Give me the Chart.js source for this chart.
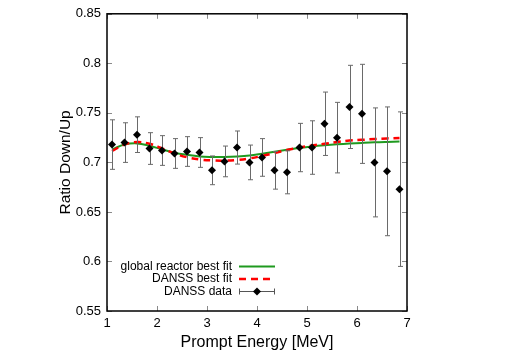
<!DOCTYPE html>
<html>
<head>
<meta charset="utf-8">
<script src="https://cdn.jsdelivr.net/npm/chart.js@4/dist/chart.umd.min.js"></script>
<style>
  html, body { margin: 0; padding: 0; background: #fff; }
  #wrap { width: 515px; height: 360px; }
</style>
</head>
<body>
<div id="wrap"><canvas id="ratioChart" width="515" height="360"></canvas></div>
<script>
/* ===== DATA ===== */
const energy = [1.1,1.35,1.6,1.85,2.1,2.35,2.6,2.85,3.1,3.35,3.6,3.85,4.1,4.35,4.6,4.85,5.1,5.35,5.6,5.85,6.1,6.35,6.6,6.85];
const ratio = [0.718,0.720,0.728,0.714,0.712,0.709,0.711,0.710,0.692,0.701,0.715,0.700,0.705,0.692,0.690,0.715,0.715,0.739,0.725,0.756,0.749,0.700,0.691,0.673];
const ratioErr = [0.025,0.020,0.018,0.016,0.015,0.015,0.015,0.015,0.0145,0.0155,0.0167,0.0175,0.019,0.019,0.0217,0.0244,0.027,0.032,0.0356,0.042,0.050,0.055,0.065,0.078];

const fitEnergy = [1.1,1.35,1.6,1.85,2.1,2.35,2.6,2.85,3.1,3.35,3.6,3.85,4.1,4.35,4.6,4.85,5.1,5.35,5.6,5.85,6.1,6.35,6.6,6.85];
const globalFit = [0.713,0.718,0.7192,0.7168,0.7132,0.7098,0.7076,0.706,0.7055,0.7055,0.706,0.707,0.7088,0.7108,0.7127,0.7145,0.716,0.7172,0.7182,0.719,0.7197,0.7203,0.7207,0.721];
const danssFit = [0.7115,0.718,0.7205,0.7188,0.7142,0.709,0.7052,0.703,0.702,0.7018,0.7025,0.704,0.7065,0.7095,0.7125,0.715,0.717,0.7188,0.7205,0.722,0.7228,0.7236,0.7242,0.7247];

const xTicks = [1,2,3,4,5,6,7];
const yTicks = [0.55,0.6,0.65,0.7,0.75,0.8,0.85];
const yTickLabels = ["0.55","0.6","0.65","0.7","0.75","0.8","0.85"];
const legendLabels = ["global reactor best fit","DANSS best fit","DANSS data"];

const FONT = "'Liberation Sans', Arial, sans-serif";
const GREEN = "#1f9a1f";
const RED = "#ff0000";

/* ===== ERROR BARS ===== */
const errorBars = {
    id: "errorBars",
    beforeDatasetDraw(chart, args) {
        if (args.index !== 2) return;
        const {ctx, scales: {x, y}} = chart;
        ctx.save();
        ctx.strokeStyle = "#6a6a6a";
        ctx.lineWidth = 1;
        energy.forEach((e, i) => {
            const px = Math.round(x.getPixelForValue(e)) + 0.5;
            const top = y.getPixelForValue(ratio[i] + ratioErr[i]);
            const bot = y.getPixelForValue(ratio[i] - ratioErr[i]);
            ctx.beginPath();
            ctx.moveTo(px, top); ctx.lineTo(px, bot);
            ctx.moveTo(px - 2.5, top); ctx.lineTo(px + 2.5, top);
            ctx.moveTo(px - 2.5, bot); ctx.lineTo(px + 2.5, bot);
            ctx.stroke();
        });
        ctx.restore();
    }
};

/* ===== FRAME + INWARD TICKS ===== */
const frame = {
    id: "frame",
    afterDraw(chart) {
        const {ctx, chartArea: a, scales: {x, y}} = chart;
        ctx.save();
        ctx.strokeStyle = "#8a8a8a";
        ctx.lineWidth = 1;
        ctx.beginPath();
        xTicks.forEach(v => {
            const px = Math.round(x.getPixelForValue(v)) + 0.5;
            ctx.moveTo(px, a.bottom); ctx.lineTo(px, a.bottom - 5);
            ctx.moveTo(px, a.top); ctx.lineTo(px, a.top + 5);
        });
        yTicks.forEach(v => {
            const py = Math.round(y.getPixelForValue(v)) + 0.5;
            ctx.moveTo(a.left, py); ctx.lineTo(a.left + 5, py);
            ctx.moveTo(a.right, py); ctx.lineTo(a.right - 5, py);
        });
        ctx.stroke();
        ctx.strokeStyle = "#000";
        ctx.lineWidth = 1.5;
        ctx.strokeRect(a.left, a.top, a.right - a.left, a.bottom - a.top);

        // key, bottom left inside the plot
        const textRight = a.left + 125;
        const s0 = a.left + 132, s1 = a.left + 168;
        const rows = [a.bottom - 44.5, a.bottom - 32, a.bottom - 19.5];
        ctx.font = "12px " + FONT;
        ctx.fillStyle = "#000";
        ctx.textAlign = "right";
        ctx.textBaseline = "middle";
        legendLabels.forEach((t, i) => ctx.fillText(t, textRight, rows[i]));

        ctx.lineWidth = 2;
        ctx.strokeStyle = GREEN;
        ctx.beginPath(); ctx.moveTo(s0, rows[0]); ctx.lineTo(s1, rows[0]); ctx.stroke();

        ctx.strokeStyle = RED;
        ctx.lineWidth = 2.5;
        ctx.setLineDash([7, 5]);
        ctx.beginPath(); ctx.moveTo(s0, rows[1]); ctx.lineTo(s1, rows[1]); ctx.stroke();
        ctx.setLineDash([]);

        ctx.strokeStyle = "#555";
        ctx.lineWidth = 1;
        ctx.beginPath();
        ctx.moveTo(s0, rows[2]); ctx.lineTo(s1, rows[2]);
        ctx.moveTo(s0 + 0.5, rows[2] - 3); ctx.lineTo(s0 + 0.5, rows[2] + 3);
        ctx.moveTo(s1 - 0.5, rows[2] - 3); ctx.lineTo(s1 - 0.5, rows[2] + 3);
        ctx.stroke();
        const cx = (s0 + s1) / 2;
        ctx.fillStyle = "#000";
        ctx.beginPath();
        ctx.moveTo(cx, rows[2] - 4); ctx.lineTo(cx + 4, rows[2]);
        ctx.lineTo(cx, rows[2] + 4); ctx.lineTo(cx - 4, rows[2]);
        ctx.closePath(); ctx.fill();
        ctx.restore();
    }
};

const bg = {
    id: "bg",
    beforeDraw(chart) {
        const ctx = chart.ctx;
        ctx.save();
        ctx.fillStyle = "#fff";
        ctx.fillRect(0, 0, chart.width, chart.height);
        ctx.restore();
    }
};

/* ===== CHART ===== */
const ctx = document.getElementById("ratioChart").getContext("2d");
new Chart(ctx, {
    type: "scatter",
    data: {
        datasets: [
            {
                label: legendLabels[0],
                type: "line",
                data: fitEnergy.map((e, i) => ({x: e, y: globalFit[i]})),
                borderColor: GREEN,
                borderWidth: 2,
                pointRadius: 0,
                tension: 0.4,
                fill: false,
                order: 2
            },
            {
                label: legendLabels[1],
                type: "line",
                data: fitEnergy.map((e, i) => ({x: e, y: danssFit[i]})),
                borderColor: RED,
                borderWidth: 2.5,
                borderDash: [7, 5],
                pointRadius: 0,
                tension: 0.4,
                fill: false,
                order: 1
            },
            {
                label: legendLabels[2],
                data: energy.map((e, i) => ({x: e, y: ratio[i]})),
                pointStyle: "rectRot",
                pointRadius: 4,
                backgroundColor: "#000",
                borderColor: "#000",
                borderWidth: 0,
                order: 0
            }
        ]
    },
    options: {
        responsive: false,
        animation: false,
        layout: {padding: {left: 0, top: 12, right: 108, bottom: 0}},
        plugins: {legend: {display: false}, tooltip: {enabled: false}},
        scales: {
            x: {
                type: "linear",
                min: 1, max: 7,
                afterBuildTicks: s => { s.ticks = xTicks.map(v => ({value: v})); },
                afterFit: s => { s.height = 49; },
                grid: {display: false, drawTicks: false},
                border: {display: false},
                ticks: {padding: 5, color: "#000", font: {family: FONT, size: 13}, maxRotation: 0},
                title: {display: true, text: "Prompt Energy [MeV]", color: "#000",
                        font: {family: FONT, size: 16}, padding: {top: 0, bottom: 8}}
            },
            y: {
                type: "linear",
                min: 0.55, max: 0.85,
                afterBuildTicks: s => { s.ticks = yTicks.map(v => ({value: v})); },
                afterFit: s => { s.width = 107; },
                grid: {display: false, drawTicks: false},
                border: {display: false},
                ticks: {
                    padding: 6, color: "#000", font: {family: FONT, size: 13},
                    callback: v => yTickLabels[yTicks.findIndex(t => Math.abs(t - v) < 1e-9)]
                },
                title: {display: true, text: "Ratio Down/Up", color: "#000",
                        font: {family: FONT, size: 15.5}, padding: {top: 56, bottom: 0}}
            }
        }
    },
    plugins: [bg, errorBars, frame]
});
</script>
</body>
</html>
